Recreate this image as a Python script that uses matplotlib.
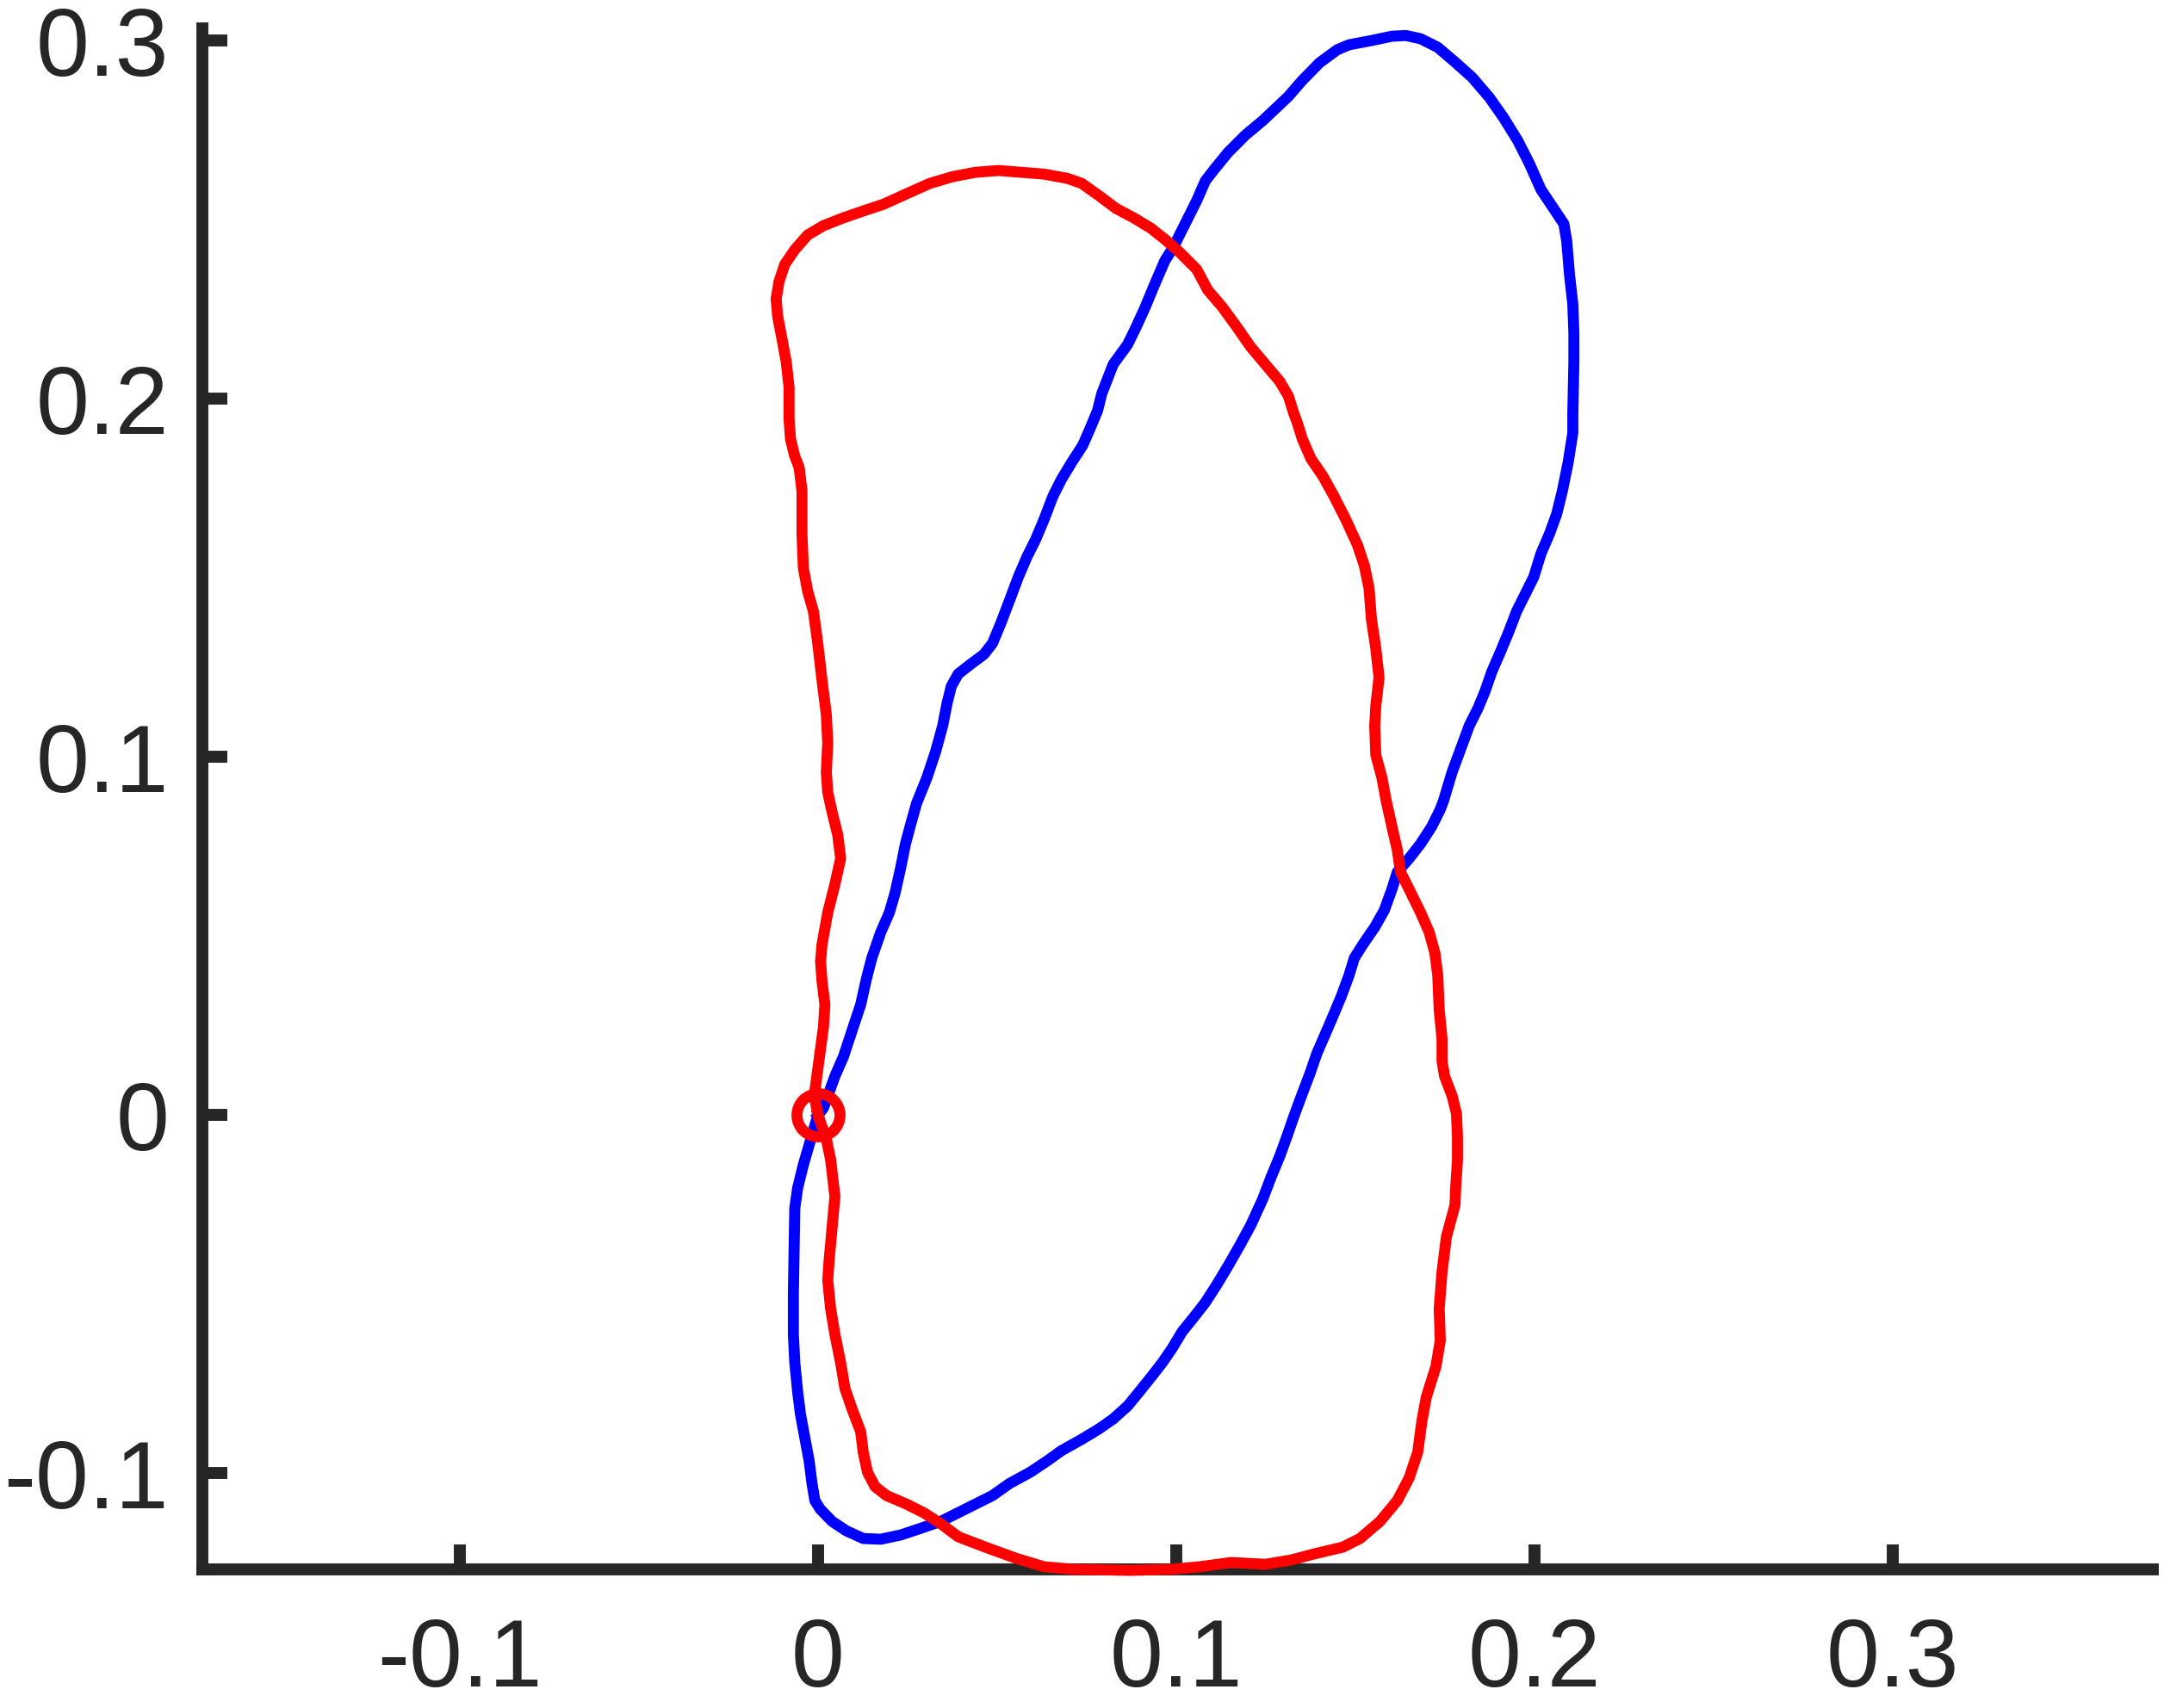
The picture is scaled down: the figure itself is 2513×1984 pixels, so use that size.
import matplotlib
matplotlib.use("Agg")
import matplotlib.pyplot as plt

plt.rcParams['font.family'] = ['Liberation Sans', 'DejaVu Sans']
plt.rcParams['axes.unicode_minus'] = False

# traced outlines (data units), both start and end at the origin
blue_x = [0, 0.0015, 0.0047, 0.0071, 0.0095, 0.0119, 0.0135, 0.0150, 0.0175, 0.0199,
          0.0215, 0.0231, 0.0244, 0.0259, 0.0275, 0.0304, 0.0328, 0.0348, 0.0360, 0.0372,
          0.0391, 0.0424, 0.0463, 0.0487, 0.0511, 0.0535, 0.0559, 0.0583, 0.0607, 0.0631,
          0.0655, 0.0679, 0.0708, 0.0739, 0.0760, 0.0780, 0.0792, 0.0824, 0.0864, 0.0888,
          0.0913, 0.0937, 0.0968, 0.0992, 0.1009, 0.1033, 0.1057, 0.1081, 0.1105, 0.1145,
          0.1193, 0.1241, 0.1280, 0.1313, 0.1352, 0.1400, 0.1449, 0.1482, 0.1545, 0.1602,
          0.1641, 0.1682, 0.1730, 0.1778, 0.1826, 0.1874, 0.1914, 0.1953, 0.1986, 0.2018,
          0.2050, 0.2082, 0.2090, 0.2098, 0.2107, 0.2110, 0.2110, 0.2107, 0.2107, 0.2094,
          0.2078, 0.2062, 0.2042, 0.2018, 0.1998, 0.1974, 0.1950, 0.1929, 0.1905, 0.1881,
          0.1862, 0.1842, 0.1818, 0.1794, 0.1770, 0.1746, 0.1737, 0.1713, 0.1682, 0.1650,
          0.1617, 0.1602, 0.1581, 0.1554, 0.1521, 0.1497, 0.1482, 0.1461, 0.1441, 0.1417,
          0.1393, 0.1373, 0.1352, 0.1328, 0.1309, 0.1289, 0.1265, 0.1241, 0.1208, 0.1177,
          0.1145, 0.1112, 0.1081, 0.1049, 0.1016, 0.0989, 0.0961, 0.0929, 0.0896, 0.0864,
          0.0824, 0.0784, 0.0736, 0.0679, 0.0640, 0.0592, 0.0535, 0.0487, 0.0439, 0.0391,
          0.0343, 0.0288, 0.0231, 0.0175, 0.0126, 0.0078, 0.0039, 0.0006, -0.0009, -0.0017,
          -0.0025, -0.0037, -0.0049, -0.0057, -0.0065, -0.0069, -0.0069, -0.0067, -0.0065, -0.0057,
          -0.0041, -0.0025, -0.0009, 0]
blue_y = [0, 0.0019, 0.0108, 0.0163, 0.0236, 0.0308, 0.0380, 0.0438, 0.0510, 0.0565,
          0.0620, 0.0692, 0.0757, 0.0813, 0.0870, 0.0942, 0.1014, 0.1087, 0.1149, 0.1197,
          0.1231, 0.1257, 0.1286, 0.1317, 0.1375, 0.1438, 0.1502, 0.1558, 0.1606, 0.1663,
          0.1726, 0.1774, 0.1822, 0.1870, 0.1918, 0.1966, 0.2014, 0.2096, 0.2151, 0.2200,
          0.2255, 0.2313, 0.2385, 0.2423, 0.2457, 0.2505, 0.2553, 0.2608, 0.2639, 0.2688,
          0.2736, 0.2776, 0.2813, 0.2844, 0.2889, 0.2938, 0.2974, 0.2988, 0.3000, 0.3012,
          0.3014, 0.3005, 0.2981, 0.2940, 0.2897, 0.2841, 0.2784, 0.2721, 0.2656, 0.2584,
          0.2536, 0.2488, 0.2440, 0.2344, 0.2264, 0.2183, 0.2103, 0.1959, 0.1904, 0.1822,
          0.1743, 0.1678, 0.1623, 0.1567, 0.1502, 0.1454, 0.1406, 0.1351, 0.1293, 0.1238,
          0.1183, 0.1135, 0.1087, 0.1022, 0.0957, 0.0877, 0.0853, 0.0805, 0.0757, 0.0716,
          0.0678, 0.0630, 0.0572, 0.0524, 0.0476, 0.0438, 0.0389, 0.0332, 0.0284, 0.0228,
          0.0173, 0.0115, 0.0060, -0.0005, -0.0060, -0.0115, -0.0173, -0.0236, -0.0308, -0.0365,
          -0.0421, -0.0476, -0.0524, -0.0565, -0.0606, -0.0651, -0.0692, -0.0733, -0.0774, -0.0813,
          -0.0849, -0.0877, -0.0906, -0.0938, -0.0966, -0.0998, -0.1029, -0.1063, -0.1087, -0.1111,
          -0.1135, -0.1154, -0.1173, -0.1185, -0.1183, -0.1161, -0.1135, -0.1101, -0.1077, -0.1029,
          -0.0966, -0.0901, -0.0837, -0.0774, -0.0692, -0.0613, -0.0500, -0.0380, -0.0260, -0.0204,
          -0.0139, -0.0084, -0.0029, 0]

red_x = [0, -0.0009, -0.0009, 0.0003, 0.0015, 0.0019, 0.0011, 0.0007, 0.0011, 0.0027,
         0.0047, 0.0063, 0.0055, 0.0039, 0.0027, 0.0023, 0.0027, 0.0023, 0.0011, -0.0001,
         -0.0013, -0.0029, -0.0041, -0.0045, -0.0045, -0.0053, -0.0065, -0.0077, -0.0081, -0.0081,
         -0.0089, -0.0101, -0.0113, -0.0117, -0.0109, -0.0093, -0.0065, -0.0029, 0.0015, 0.0071,
         0.0126, 0.0183, 0.0247, 0.0312, 0.0376, 0.0439, 0.0504, 0.0568, 0.0631, 0.0696,
         0.0736, 0.0784, 0.0832, 0.0881, 0.0929, 0.0968, 0.1009, 0.1057, 0.1088, 0.1129,
         0.1169, 0.1208, 0.1256, 0.1289, 0.1313, 0.1328, 0.1337, 0.1352, 0.1376, 0.1409,
         0.1441, 0.1473, 0.1506, 0.1525, 0.1538, 0.1545, 0.1557, 0.1566, 0.1557, 0.1554,
         0.1557, 0.1574, 0.1586, 0.1602, 0.1617, 0.1626, 0.1650, 0.1682, 0.1706, 0.1722,
         0.1730, 0.1734, 0.1742, 0.1742, 0.1749, 0.1770, 0.1782, 0.1785, 0.1785, 0.1780,
         0.1778, 0.1754, 0.1742, 0.1734, 0.1737, 0.1725, 0.1698, 0.1686, 0.1674, 0.1650,
         0.1617, 0.1569, 0.1513, 0.1465, 0.1385, 0.1321, 0.1249, 0.1153, 0.1064, 0.0985,
         0.0872, 0.0712, 0.0631, 0.0552, 0.0472, 0.0391, 0.0343, 0.0295, 0.0247, 0.0191,
         0.0159, 0.0138, 0.0126, 0.0119, 0.0095, 0.0075, 0.0063, 0.0047, 0.0035, 0.0027,
         0.0031, 0.0039, 0.0047, 0.0035, 0.0023, 0.0006, 0]
red_y = [0, 0.0043, 0.0067, 0.0156, 0.0245, 0.0308, 0.0373, 0.0428, 0.0476, 0.0565,
         0.0644, 0.0716, 0.0781, 0.0846, 0.0901, 0.0957, 0.1038, 0.1118, 0.1214, 0.1317,
         0.1406, 0.1462, 0.1526, 0.1623, 0.1743, 0.1808, 0.1839, 0.1887, 0.1942, 0.2031,
         0.2103, 0.2168, 0.2231, 0.2279, 0.2327, 0.2375, 0.2416, 0.2457, 0.2483, 0.2505,
         0.2524, 0.2543, 0.2572, 0.2601, 0.2620, 0.2632, 0.2637, 0.2632, 0.2627, 0.2615,
         0.2601, 0.2567, 0.2531, 0.2505, 0.2476, 0.2445, 0.2409, 0.2361, 0.2303, 0.2255,
         0.2200, 0.2144, 0.2087, 0.2048, 0.2007, 0.1959, 0.1935, 0.1887, 0.1832, 0.1784,
         0.1726, 0.1663, 0.1591, 0.1534, 0.1471, 0.1382, 0.1303, 0.1221, 0.1142, 0.1087,
         0.1005, 0.0942, 0.0877, 0.0805, 0.0740, 0.0678, 0.0630, 0.0565, 0.0510, 0.0452,
         0.0389, 0.0293, 0.0212, 0.0149, 0.0108, 0.0053, 0.0005, -0.0060, -0.0125, -0.0204,
         -0.0252, -0.0341, -0.0438, -0.0541, -0.0630, -0.0702, -0.0788, -0.0853, -0.0942, -0.1014,
         -0.1077, -0.1135, -0.1183, -0.1207, -0.1226, -0.1243, -0.1255, -0.1250, -0.1262, -0.1269,
         -0.1272, -0.1269, -0.1262, -0.1238, -0.1209, -0.1178, -0.1142, -0.1111, -0.1087, -0.1063,
         -0.1038, -0.0998, -0.0942, -0.0885, -0.0822, -0.0764, -0.0692, -0.0613, -0.0541, -0.0462,
         -0.0404, -0.0317, -0.0228, -0.0125, -0.0067, -0.0019, 0]

xticks = [-0.1, 0, 0.1, 0.2, 0.3]
xtick_labels = ['-0.1', '0', '0.1', '0.2', '0.3']
yticks = [-0.1, 0, 0.1, 0.2, 0.3]
ytick_labels = ['-0.1', '0', '0.1', '0.2', '0.3']

dark = '#262626'

fig = plt.figure(figsize=(12.565, 9.92), dpi=200)
ax = fig.add_axes([0.0935, 0.0812, 0.9013, 0.9022])

ax.plot(blue_x, blue_y, color='blue', lw=4.6, zorder=3, clip_on=False,
        solid_joinstyle='round')
ax.plot(red_x, red_y, color='red', lw=4.6, zorder=3, clip_on=False,
        solid_joinstyle='round')
ax.plot([0], [0], 'o', mfc='none', mec='red', mew=4.6, ms=18, zorder=4, clip_on=False)

ax.set_xlim(-0.1719, 0.3726)
ax.set_ylim(-0.1269, 0.3034)

for side in ('top', 'right'):
    ax.spines[side].set_visible(False)
for side in ('left', 'bottom'):
    ax.spines[side].set_linewidth(5)
    ax.spines[side].set_color(dark)
    ax.spines[side].set_capstyle('projecting')

ax.set_xticks(xticks)
ax.set_xticklabels(xtick_labels)
ax.set_yticks(yticks)
ax.set_yticklabels(ytick_labels)
ax.tick_params(direction='in', length=10.5, width=5, color=dark,
               labelcolor=dark, labelsize=40)
ax.tick_params(axis='x', pad=20)
ax.tick_params(axis='y', pad=14)

fig.savefig('out.png', dpi=200, facecolor='white')
